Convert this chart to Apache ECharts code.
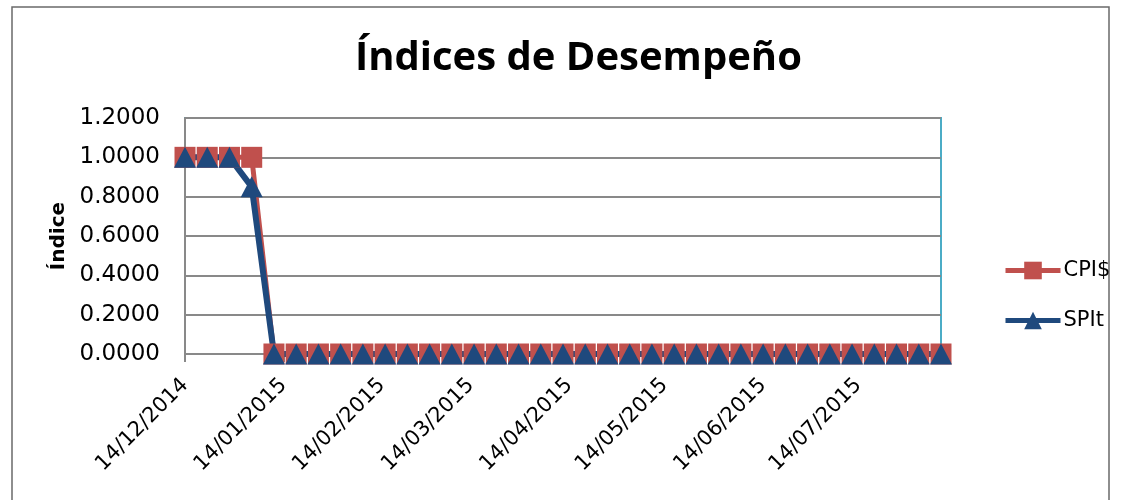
<!DOCTYPE html>
<html>
<head>
<meta charset="utf-8">
<script src="https://cdn.jsdelivr.net/npm/echarts@6/dist/echarts.min.js"></script>
<style>
  html, body { margin: 0; padding: 0; background: #fff; }
  #chart { width: 1123px; height: 500px; }
</style>
</head>
<body>
<div id="chart"></div>
<script>
// fechas de corte semanales
var fechas = [
  '2014-12-14', '2014-12-21', '2014-12-28', '2015-01-04', '2015-01-11',
  '2015-01-18', '2015-01-25', '2015-02-01', '2015-02-08', '2015-02-15',
  '2015-02-22', '2015-03-01', '2015-03-08', '2015-03-15', '2015-03-22',
  '2015-03-29', '2015-04-05', '2015-04-12', '2015-04-19', '2015-04-26',
  '2015-05-03', '2015-05-10', '2015-05-17', '2015-05-24', '2015-05-31',
  '2015-06-07', '2015-06-14', '2015-06-21', '2015-06-28', '2015-07-05',
  '2015-07-12', '2015-07-19', '2015-07-26', '2015-08-02', '2015-08-09'
]
var cpi = [
  1, 1, 1, 1, 0,
  0, 0, 0, 0, 0,
  0, 0, 0, 0, 0,
  0, 0, 0, 0, 0,
  0, 0, 0, 0, 0,
  0, 0, 0, 0, 0,
  0, 0, 0, 0, 0
]
var spit = [
  1, 1, 1, 0.85, 0,
  0, 0, 0, 0, 0,
  0, 0, 0, 0, 0,
  0, 0, 0, 0, 0,
  0, 0, 0, 0, 0,
  0, 0, 0, 0, 0,
  0, 0, 0, 0, 0
]
// etiquetas del eje X (mensuales)
var etiquetasX = [
  '2014-12-14', '2015-01-14', '2015-02-14', '2015-03-14',
  '2015-04-14', '2015-05-14', '2015-06-14', '2015-07-14'
]

function ts(s) {
  var p = s.split('-')
  return new Date(+p[0], +p[1] - 1, +p[2]).getTime()
}
function dos(n) { return n < 10 ? '0' + n : '' + n }
function pares(vals) {
  return fechas.map(function (f, i) { return [ts(f), vals[i]] })
}

var chart = echarts.init(document.getElementById('chart'))
var fuente = 'DejaVu Sans'

var option = {
  backgroundColor: '#fff',
  animation: false,
  graphic: [{
    type: 'rect',
    shape: { x: 12, y: 7, width: 1097, height: 500 },
    style: { fill: 'none', stroke: '#6a6a6a', lineWidth: 1.5 },
    silent: true
  }],
  title: {
    text: 'Índices de Desempeño',
    left: 350,
    top: 34,
    textStyle: { fontFamily: 'Open Sans', fontWeight: 'bold', fontSize: 40, color: '#000' }
  },
  legend: {
    orient: 'vertical',
    left: 1003,
    top: 260,
    padding: 0,
    itemWidth: 55,
    itemHeight: 22,
    itemGap: 29,
    textStyle: { fontFamily: fuente, fontSize: 21, color: '#000', padding: [0, 0, 0, -2] },
    lineStyle: { width: 5 },
    data: ['CPI$', 'SPIt']
  },
  grid: {
    left: 185, right: 182, top: 118, bottom: 146,
    show: true, borderColor: '#4BACC6', borderWidth: 2, backgroundColor: '#fff'
  },
  xAxis: {
    type: 'value',
    min: ts(fechas[0]),
    max: ts(fechas[fechas.length - 1]),
    axisLine: { lineStyle: { color: '#898989', width: 2 } },
    axisTick: { show: true, length: 8, lineStyle: { color: '#898989', width: 2 },
      customValues: etiquetasX.map(ts) },
    splitLine: { show: false },
    axisLabel: {
      customValues: etiquetasX.map(ts),
      rotate: 45,
      margin: 28,
      fontFamily: fuente,
      fontSize: 21,
      color: '#000',
      formatter: function (v) {
        var d = new Date(v)
        return dos(d.getDate()) + '/' + dos(d.getMonth() + 1) + '/' + d.getFullYear()
      }
    }
  },
  yAxis: {
    type: 'value',
    min: 0, max: 1.2, interval: 0.2,
    name: 'Índice',
    nameLocation: 'middle',
    nameGap: 108,
    nameTextStyle: { fontFamily: fuente, fontWeight: 'bold', fontSize: 20, color: '#000' },
    axisLine: { show: true, lineStyle: { color: '#898989', width: 2 } },
    axisTick: { show: false },
    splitLine: { lineStyle: { color: '#898989', width: 2 } },
    axisLabel: {
      margin: 25,
      fontFamily: fuente,
      fontSize: 23,
      color: '#000',
      formatter: function (v) { return v.toFixed(4) }
    }
  },
  series: [
    {
      name: 'CPI$',
      type: 'line',
      data: pares(cpi),
      symbol: 'rect',
      symbolSize: 21,
      showAllSymbol: true,
      lineStyle: { color: '#C0504D', width: 5 },
      itemStyle: { color: '#C0504D' }
    },
    {
      name: 'SPIt',
      type: 'line',
      data: pares(spit),
      symbol: 'triangle',
      symbolSize: [22, 21],
      showAllSymbol: true,
      lineStyle: { color: '#1F497D', width: 6 },
      itemStyle: { color: '#1F497D' }
    }
  ]
}

chart.setOption(option)
</script>
</body>
</html>
